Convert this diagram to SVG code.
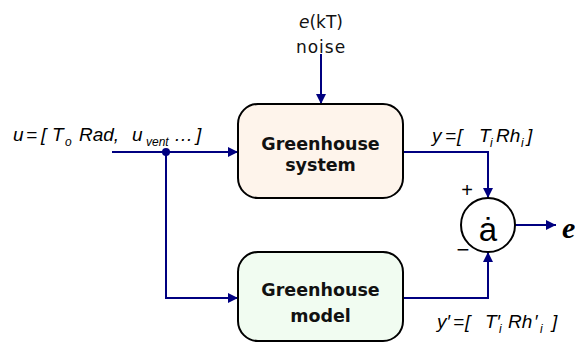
<svg xmlns="http://www.w3.org/2000/svg" width="575" height="346" viewBox="0 0 575 346">
  <style>
    .box { stroke: #000; stroke-width: 2; }
    .blk { font-family: "DejaVu Sans", Verdana, sans-serif; font-weight: bold; font-size: 17.5px; fill: #111; text-anchor: middle; }
    .math { font-family: "Liberation Sans", Arial, sans-serif; font-style: italic; font-size: 19px; fill: #000; }
    .sub { font-size: 12px; }
    .plain { font-family: "DejaVu Sans", Verdana, sans-serif; font-size: 17px; fill: #111; text-anchor: middle; }
    .sign { font-family: "Liberation Sans", Arial, sans-serif; fill: #000; text-anchor: middle; }
    .wire { fill: none; stroke: #000080; stroke-width: 2; }
  </style>
  <defs>
    <marker id="arrow" viewBox="0 0 10 10" refX="10" refY="5" markerWidth="10" markerHeight="10" markerUnits="userSpaceOnUse" orient="auto">
      <path d="M0,0 L10,5 L0,10 z" fill="#000080"/>
    </marker>
  </defs>

  <rect width="575" height="346" fill="#fff"/>

  <!-- connectors -->
  <g id="connectors">
    <path class="wire" d="M112,152 H238" marker-end="url(#arrow)"/>
    <path class="wire" d="M166,152 V298 H238" marker-end="url(#arrow)"/>
    <circle cx="166" cy="152" r="4" fill="#000080"/>
    <path class="wire" d="M321,54 V104" marker-end="url(#arrow)"/>
    <path class="wire" d="M403,152 H488 V198" marker-end="url(#arrow)"/>
    <path class="wire" d="M403,298 H488 V252" marker-end="url(#arrow)"/>
    <path class="wire" d="M515,225 H556" marker-end="url(#arrow)"/>
  </g>

  <!-- plant -->
  <g id="greenhouse-system">
    <rect class="box" x="238" y="104" width="165" height="94" rx="20" fill="#fef4eb"/>
    <text class="blk" x="320.5" y="150">Greenhouse</text>
    <text class="blk" x="320.5" y="171">system</text>
  </g>

  <!-- model -->
  <g id="greenhouse-model">
    <rect class="box" x="238" y="252" width="165" height="89" rx="20" fill="#f1fcf1"/>
    <text class="blk" x="320.5" y="296">Greenhouse</text>
    <text class="blk" x="320.5" y="322">model</text>
  </g>

  <!-- summing junction -->
  <g id="sum">
    <circle cx="488" cy="225" r="27" fill="#fff" stroke="#000" stroke-width="2"/>
    <text class="sign" x="488" y="241" font-size="33">ȧ</text>
    <text class="sign" x="467" y="197" font-size="20">+</text>
    <text class="sign" x="463" y="257" font-size="22">−</text>
  </g>

  <!-- error output -->
  <g id="error">
    <text x="562" y="238" font-family="Liberation Serif, serif" font-weight="bold" font-style="italic" font-size="30" fill="#000">e</text>
  </g>

  <!-- noise input -->
  <g id="noise">
    <text class="plain" x="321" y="28"><tspan font-style="italic">e</tspan>(kT)</text>
    <text class="plain" x="321" y="53" letter-spacing="1">noise</text>
  </g>

  <!-- input vector -->
  <g id="input-label" class="math">
    <text y="141"><tspan x="13">u</tspan><tspan x="26">=</tspan><tspan x="41">[</tspan><tspan x="52">T</tspan><tspan class="sub" x="65" y="146">o</tspan><tspan x="79" y="141">Rad,</tspan><tspan x="132">u</tspan><tspan class="sub" x="146" y="146">vent</tspan><tspan x="174" y="141">…</tspan><tspan x="196">]</tspan></text>
  </g>

  <!-- measured output -->
  <g id="output-label" class="math">
    <text y="142"><tspan x="432">y</tspan><tspan x="445">=</tspan><tspan x="457">[</tspan><tspan x="479">T</tspan><tspan class="sub" x="490" y="147">i</tspan><tspan x="496" y="142">Rh</tspan><tspan class="sub" x="521" y="147">i</tspan><tspan x="527" y="142">]</tspan></text>
  </g>

  <!-- model output -->
  <g id="model-output-label" class="math">
    <text y="328"><tspan x="437">y′</tspan><tspan x="453">=</tspan><tspan x="465">[</tspan><tspan x="485">T′</tspan><tspan class="sub" x="499" y="333">i</tspan><tspan x="508" y="328">Rh</tspan><tspan x="534">′</tspan><tspan class="sub" x="540" y="333">i</tspan><tspan x="552" y="328">]</tspan></text>
  </g>
</svg>
